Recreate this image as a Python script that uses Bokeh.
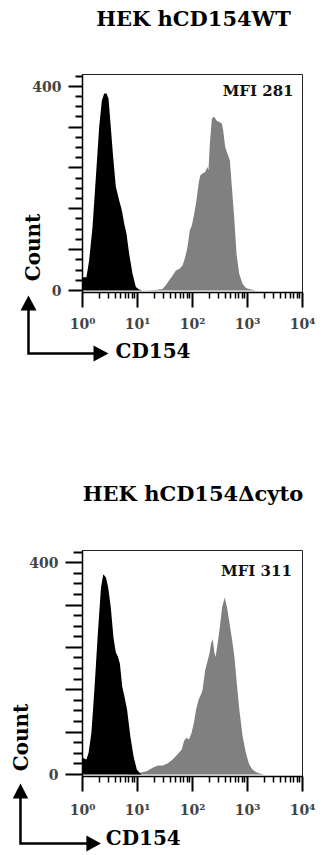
from bokeh.plotting import figure
from bokeh.models import Range1d, FixedTicker
from bokeh.layouts import column
from bokeh.core.properties import value
from bokeh.embed import file_html
from bokeh.resources import INLINE
import math

# ---------------- data ----------------
x_ticks = [1, 10, 100, 1000, 10000]
x_tick_labels = ["10⁰", "10¹", "10²", "10³", "10⁴"]
y_ticks = [0, 80, 160, 240, 320, 400]
y_tick_labels = ["0", "", "", "", "", "400"]

panel_titles = ["HEK hCD154WT", "HEK hCD154Δcyto"]
mfi_labels = ["MFI 281", "MFI 311"]
axis_x_label = "CD154"
axis_y_label = "Count"

# HEK hCD154WT: isotype control (black) and CD154 stain (grey)
wt_ctrl_x = [1.0, 1.18, 1.32, 1.52, 1.75, 2.01, 2.25, 2.48, 2.73, 2.97, 3.27, 3.61,
             4.04, 4.65, 5.19, 5.73, 6.31, 7.05, 8.11, 9.33, 10.7, 12.3]
wt_ctrl_count = [26, 26, 59, 124, 222, 320, 372, 386, 386, 376, 320, 261,
                 203, 176, 157, 131, 111, 72, 33, 7, 2, 0]
wt_stain_x = [12.3, 21.5, 28.5, 32.7, 37.7, 43.3, 49.8, 57.3, 65.8, 73.6, 81.1, 89.5,
              97.3, 107, 118, 129, 138, 152, 170, 187, 195, 207, 225, 248, 273, 305,
              341, 361, 393, 433, 478, 519, 573, 631, 705, 811, 933, 1151, 1419]
wt_stain_count = [0, 1, 3, 10, 20, 29, 39, 42, 49, 65, 85, 118,
                  127, 150, 176, 209, 225, 229, 232, 242, 235, 288, 337, 340, 333, 330,
                  327, 314, 281, 268, 255, 203, 144, 72, 33, 13, 5, 2, 0]

# HEK hCD154Δcyto
cyto_ctrl_x = [1.0, 1.03, 1.18, 1.29, 1.45, 1.66, 1.90, 2.17, 2.39, 2.67, 2.93, 3.27,
               3.65, 4.02, 4.42, 4.79, 5.27, 5.79, 6.47, 7.41, 8.49, 9.72, 10.9, 11.9]
cyto_ctrl_count = [31, 31, 28, 41, 78, 166, 266, 353, 378, 372, 353, 316,
                   259, 231, 222, 209, 166, 147, 122, 72, 34, 9, 3, 0]
cyto_stain_x = [6.47, 11.1, 14.7, 19.2, 23.6, 29.0, 35.5, 43.6, 53.5, 63.8, 70.1, 77.3,
                86.1, 95.9, 106, 116, 129, 145, 152, 170, 190, 203, 217, 233, 249, 263,
                286, 314, 345, 385, 424, 473, 527, 579, 647, 711, 815, 933, 1072, 1227,
                1507, 1977]
cyto_stain_count = [0, 3, 6, 13, 17, 17, 21, 28, 38, 47, 63, 69,
                    66, 78, 97, 122, 141, 153, 159, 197, 216, 228, 247, 256, 231, 222,
                    247, 278, 316, 334, 316, 284, 253, 222, 166, 122, 72, 41, 19, 9,
                    3, 0]

CTRL_COLOR = "#000000"
STAIN_COLOR = "#808080"
FONT = "DejaVu Serif"
Y0, Y1 = -4, 423


def make_panel(title, mfi, cx, cy, sx_, sy_, g):
    fl, fr, ft, fb, W, H = g["fl"], g["fr"], g["ft"], g["fb"], 334, g["H"]

    def to_x(px):
        return 10 ** ((px - fl) / (fr - fl) * 4)

    def to_y(py):
        return Y1 - (py - ft) / (fb - ft) * (Y1 - Y0)

    p = figure(width=W, height=H, x_axis_type="log",
               x_range=Range1d(1, 10000), y_range=Range1d(Y0, Y1),
               output_backend="svg", toolbar_location=None,
               min_border_left=fl, min_border_right=W - fr,
               min_border_top=ft, min_border_bottom=H - fb)
    p.grid.visible = False
    p.outline_line_color = "#222222"
    p.outline_line_width = 1
    p.background_fill_color = "white"
    p.border_fill_color = "white"

    p.varea(x=sx_, y1=0, y2=sy_, fill_color=STAIN_COLOR)
    p.varea(x=cx, y1=0, y2=cy, fill_color=CTRL_COLOR)

    # x axis
    xa = p.xaxis[0]
    minors = [m * 10 ** k for k in range(4) for m in range(2, 10)]
    xa.ticker = FixedTicker(ticks=x_ticks, minor_ticks=minors)
    xa.major_label_overrides = {t: l for t, l in zip(x_ticks, x_tick_labels)}
    xa.major_tick_out = g["xmaj"]
    xa.minor_tick_out = 6
    xa.major_tick_in = 0
    xa.minor_tick_in = 0
    xa.major_label_standoff = g["xstand"]
    xa.major_label_text_font = FONT
    xa.major_label_text_font_style = "bold"
    xa.major_label_text_font_size = "14px"
    xa.axis_line_width = 1.5
    xa.major_tick_line_width = 2
    xa.minor_tick_line_width = 1.5

    # y axis
    ya = p.yaxis[0]
    yminors = [v for v in range(20, 440, 20) if v not in y_ticks]
    ya.ticker = FixedTicker(ticks=y_ticks, minor_ticks=yminors)
    ya.major_label_overrides = {t: l for t, l in zip(y_ticks, y_tick_labels)}
    ya.major_tick_out = g["ymaj"]
    ya.minor_tick_out = g["ymin"]
    ya.major_tick_in = 0
    ya.minor_tick_in = 0
    ya.major_label_standoff = 7
    ya.major_label_text_font = FONT
    ya.major_label_text_font_style = "bold"
    ya.major_label_text_font_size = "14px"
    ya.axis_line_width = 1.5
    ya.major_tick_line_width = 2
    ya.minor_tick_line_width = 2

    # texts (overlay level so that they are not clipped to the frame)
    def txt(px, py, s, size, align, angle=0.0, color="black"):
        p.text(x=[to_x(px)], y=[to_y(py)], text=[s], angle=angle,
               text_font=value(FONT), text_font_style="bold",
               text_font_size=size, text_align=align, text_baseline="middle",
               text_color=color, level="overlay")

    txt(*g["title"], title, "21px", "center")
    txt(*g["mfi"], mfi, "15px", "right", color="#111111")
    txt(*g["count"], axis_y_label, "20px", "center", angle=math.pi / 2)
    txt(*g["cd"], axis_x_label, "20px", "left")

    # L-shaped arrow
    ax, ay, tipy, tipx = g["arrow"]
    hl, hw = 15, 8
    p.line(x=[to_x(ax), to_x(ax), to_x(tipx - hl + 1)],
           y=[to_y(tipy + hl - 1), to_y(ay), to_y(ay)],
           line_width=2.5, line_color="black", line_join="miter", level="overlay")
    # arrow heads as filled triangles (area glyphs are not culled)
    p.varea(x=[to_x(ax - hw), to_x(ax), to_x(ax + hw)],
            y1=[to_y(tipy + hl)] * 3,
            y2=[to_y(tipy + hl), to_y(tipy), to_y(tipy + hl)],
            fill_color="black", level="overlay")
    p.harea(y=[to_y(ay + hw), to_y(ay), to_y(ay - hw)],
            x1=[to_x(tipx - hl)] * 3,
            x2=[to_x(tipx - hl), to_x(tipx), to_x(tipx - hl)],
            fill_color="black", level="overlay")
    return p


g1 = dict(fl=82, fr=302, ft=74, fb=292, H=400, xmaj=15, xstand=8, ymaj=14, ymin=7,
          title=(193, 18), mfi=(293, 90), count=(32, 247), cd=(115, 350),
          arrow=(28, 353, 295, 108))
g2 = dict(fl=81, fr=308, ft=150, fb=376, H=455, xmaj=15, xstand=10, ymaj=17, ymin=9,
          title=(195, 93), mfi=(297, 170), count=(18, 337), cd=(105, 437),
          arrow=(17, 443, 383, 100))

p1 = make_panel(panel_titles[0], mfi_labels[0], wt_ctrl_x, wt_ctrl_count,
                wt_stain_x, wt_stain_count, g1)
p2 = make_panel(panel_titles[1], mfi_labels[1], cyto_ctrl_x, cyto_ctrl_count,
                cyto_stain_x, cyto_stain_count, g2)

layout = column(p1, p2, spacing=0)
open("out.html", "w").write(file_html(layout, INLINE))
